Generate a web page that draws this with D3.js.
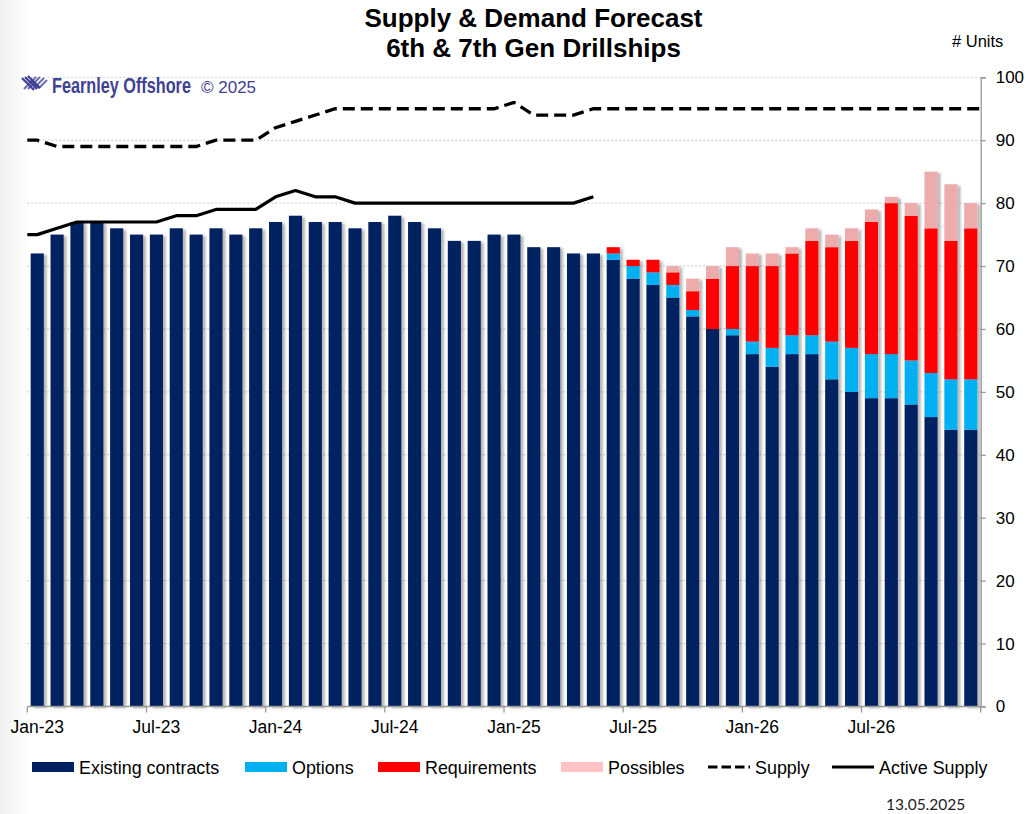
<!DOCTYPE html>
<html><head><meta charset="utf-8">
<script src="https://cdn.jsdelivr.net/npm/d3@7"></script>
<style>
body{margin:0;background:#fff;}
svg{display:block;font-family:"Liberation Sans",Arial,sans-serif;}
</style>
</head><body><svg id="c" width="1030" height="814"></svg>
<script>
// ---------- DATA ----------
const categories = [
 "Jan-23","Feb-23","Mar-23","Apr-23","May-23","Jun-23","Jul-23","Aug-23","Sep-23","Oct-23","Nov-23","Dec-23",
 "Jan-24","Feb-24","Mar-24","Apr-24","May-24","Jun-24","Jul-24","Aug-24","Sep-24","Oct-24","Nov-24","Dec-24",
 "Jan-25","Feb-25","Mar-25","Apr-25","May-25","Jun-25","Jul-25","Aug-25","Sep-25","Oct-25","Nov-25","Dec-25",
 "Jan-26","Feb-26","Mar-26","Apr-26","May-26","Jun-26","Jul-26","Aug-26","Sep-26","Oct-26","Nov-26","Dec-26"];
const existingContracts = [72,75,77,77,76,75,75,76,75,76,75,76, 77,78,77,77,76,77,78,77,76,74,74,75,
 75,73,73,72,72,71,68,67,65,62,60,59, 56,54,56,56,52,50,49,49,48,46,44,44];
const options = [0,0,0,0,0,0,0,0,0,0,0,0, 0,0,0,0,0,0,0,0,0,0,0,0,
 0,0,0,0,0,1,2,2,2,1,0,1, 2,3,3,3,6,7,7,7,7,7,8,8];
const requirements = [0,0,0,0,0,0,0,0,0,0,0,0, 0,0,0,0,0,0,0,0,0,0,0,0,
 0,0,0,0,0,1,1,2,2,3,8,10, 12,13,13,15,15,17,21,24,23,23,22,24];
const possibles = [0,0,0,0,0,0,0,0,0,0,0,0, 0,0,0,0,0,0,0,0,0,0,0,0,
 0,0,0,0,0,0,0,0,1,2,2,3, 2,2,1,2,2,2,2,1,2,9,9,4];
const supply = [90,89,89,89,89,89,89,89,89,90,90,90, 92,93,94,95,95,95,95,95,95,95,95,95,
 96,94,94,94,95,95,95,95,95,95,95,95, 95,95,95,95,95,95,95,95,95,95,95,95];
const activeSupply = [75,76,77,77,77,77,77,78,78,79,79,79, 81,82,81,81,80,80,80,80,80,80,80,80,
 80,80,80,80,81];
const xTickLabels = ["Jan-23","Jul-23","Jan-24","Jul-24","Jan-25","Jul-25","Jan-26","Jul-26"];
const yTicks = [0,10,20,30,40,50,60,70,80,90,100];
const seriesNames = ["Existing contracts","Options","Requirements","Possibles"];
const seriesColors = ["#002060","#00B0F0","#FF0000","#EDABAB"];
const legendColors = ["#002060","#00B0F0","#FF0000","#FFC3C3"];

// ---------- SETUP ----------
const svg = d3.select("#c");
const x = d3.scaleBand().domain(categories).range([27.3, 980.7]).paddingInner(0.34).paddingOuter(0.17);
const y = d3.scaleLinear().domain([0,100]).range([706.5, 77.3]);
const step = x.step();
const left = x.range()[0], right = x.range()[1];
const cx = c => x(c) + x.bandwidth()/2;

const defs = svg.append("defs");
const f = defs.append("filter").attr("id","sh").attr("x","-20%").attr("y","-5%").attr("width","160%").attr("height","115%");
f.append("feDropShadow").attr("dx",3).attr("dy",1.5).attr("stdDeviation",1).attr("flood-color","#000").attr("flood-opacity",0.28);
const bg = defs.append("linearGradient").attr("id","bg").attr("x1","0").attr("x2","1").attr("y1","0").attr("y2","0");
bg.append("stop").attr("offset","0").attr("stop-color","#ececec");
bg.append("stop").attr("offset","1").attr("stop-color","#ffffff");
svg.append("rect").attr("x",0).attr("y",0).attr("width",30).attr("height",814).attr("fill","url(#bg)").attr("opacity",0.8);

// gridlines
svg.append("g").selectAll("line").data(yTicks.filter(t=>t>0)).join("line")
  .attr("x1",left).attr("x2",right).attr("y1",d=>y(d)).attr("y2",d=>y(d))
  .attr("stroke","#c8c8c8").attr("stroke-width",1).attr("stroke-dasharray","2,2");

// stacked bars
const table = categories.map((c,i)=>({cat:c, "Existing contracts":existingContracts[i], "Options":options[i], "Requirements":requirements[i], "Possibles":possibles[i]}));
const stacked = d3.stack().keys(seriesNames)(table);
const barG = svg.append("g").attr("filter","url(#sh)");
stacked.forEach((s,k)=>{
  barG.append("g").attr("fill",seriesColors[k]).selectAll("rect").data(s.filter(d=>d[1]-d[0]>0)).join("rect")
    .attr("x",d=>x(d.data.cat)).attr("width",x.bandwidth())
    .attr("y",d=>y(d[1])).attr("height",d=>y(d[0])-y(d[1]));
});

// axes
const yAxis = d3.axisRight(y).tickValues(yTicks).tickSize(5).tickPadding(10);
const yg = svg.append("g").attr("transform",`translate(${right},0)`).call(yAxis);
yg.select(".domain").attr("stroke","#999").attr("stroke-width",1.3);
yg.selectAll(".tick line").attr("stroke","#999").attr("stroke-width",1.3);
yg.selectAll("text").attr("font-size",17).attr("fill","#000").attr("font-family","Liberation Sans, Arial, sans-serif");

svg.append("line").attr("x1",left).attr("x2",right).attr("y1",y(0)).attr("y2",y(0)).attr("stroke","#999").attr("stroke-width",1.3);
const tickIdx = d3.range(0, categories.length+1, 6);
svg.append("g").selectAll("line").data(tickIdx).join("line")
  .attr("x1",i=>left+i*step).attr("x2",i=>left+i*step).attr("y1",y(0)).attr("y2",y(0)+6)
  .attr("stroke","#999").attr("stroke-width",1.3);
svg.append("g").selectAll("text").data(xTickLabels).join("text")
  .attr("x",d=>cx(d)).attr("y",733).attr("text-anchor","middle").attr("font-size",17.5).text(d=>d);

// lines
const line = d3.line().x(d=>d[0]).y(d=>y(d[1]));
const supplyPts = [[left,supply[0]], ...supply.map((v,i)=>[cx(categories[i]),v]), [right,supply[supply.length-1]]];
const activePts = [[left,activeSupply[0]], ...activeSupply.map((v,i)=>[cx(categories[i]),v])];
svg.append("path").attr("d",line(supplyPts)).attr("fill","none").attr("stroke","#000")
  .attr("stroke-width",3.3).attr("stroke-dasharray","12,6");
svg.append("path").attr("d",line(activePts)).attr("fill","none").attr("stroke","#000")
  .attr("stroke-width",3.2).attr("stroke-linejoin","round");

// title
svg.append("text").attr("x",533.5).attr("y",27).attr("text-anchor","middle").attr("font-size",26).attr("font-weight","bold").text("Supply & Demand Forecast");
svg.append("text").attr("x",533.5).attr("y",57).attr("text-anchor","middle").attr("font-size",26).attr("font-weight","bold").text("6th & 7th Gen Drillships");
svg.append("text").attr("x",952).attr("y",47).attr("font-size",16.5).text("# Units");

// logo
const logoC = "#3f4193";
const lg = svg.append("g").attr("stroke",logoC).attr("stroke-width",2.2);
[[22,78,34,90],[25,77,37,89],[28,76,40,88],[31,80,39,88]].forEach(p=>lg.append("line").attr("x1",p[0]).attr("y1",p[1]).attr("x2",p[2]).attr("y2",p[3]));
[[36,77,24,89],[40,77,28,89],[44,78,34,88],[47,80,39,88]].forEach(p=>lg.append("line").attr("x1",p[0]).attr("y1",p[1]).attr("x2",p[2]).attr("y2",p[3]).attr("stroke-opacity",0.75));
const logoT = svg.append("text").attr("x",0).attr("y",0).attr("font-family","Liberation Sans Narrow, Arial Narrow, Liberation Sans, sans-serif")
  .attr("font-weight","bold").attr("font-size",21.5).attr("fill",logoC).text("Fearnley Offshore");
const natW = logoT.node().getComputedTextLength();
logoT.attr("transform",`translate(52,92.5) scale(${139/natW},1)`);
svg.append("text").attr("x",201).attr("y",92.5).attr("font-size",17).attr("fill",logoC).text("© 2025");

// legend
const legY = 767;
const legItems = [
  {name:"Existing contracts", x:32, type:"rect", color:legendColors[0]},
  {name:"Options", x:245, type:"rect", color:legendColors[1]},
  {name:"Requirements", x:378, type:"rect", color:legendColors[2]},
  {name:"Possibles", x:561, type:"rect", color:legendColors[3]},
  {name:"Supply", x:708, type:"dash"},
  {name:"Active Supply", x:832, type:"solid"}];
const leg = svg.append("g");
legItems.forEach(it=>{
  if(it.type==="rect") leg.append("rect").attr("x",it.x).attr("y",legY-5).attr("width",42).attr("height",10).attr("fill",it.color);
  else leg.append("line").attr("x1",it.x).attr("x2",it.x+42).attr("y1",legY).attr("y2",legY).attr("stroke","#000")
        .attr("stroke-width",3).attr("stroke-dasharray",it.type==="dash"?"9.5,4":null);
  leg.append("text").attr("x",it.x+47).attr("y",legY+6.5).attr("font-size",17.9).text(it.name);
});
svg.append("text").attr("x",886).attr("y",810).attr("font-family","Lato, 'Open Sans', sans-serif").attr("font-size",15.5).attr("fill","#222").text("13.05.2025");
</script>
</body></html>
